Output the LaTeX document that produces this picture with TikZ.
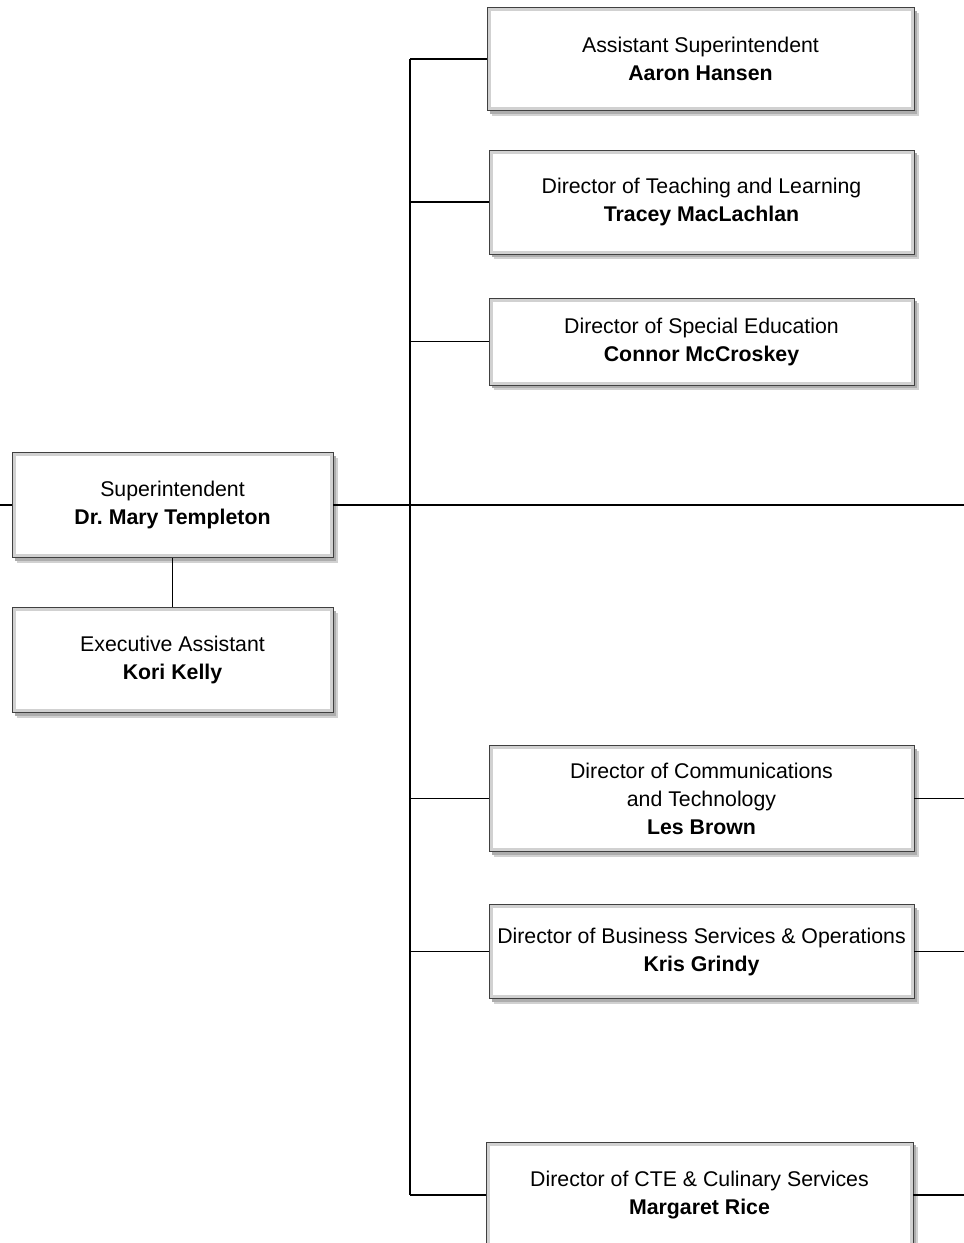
\documentclass[tikz,border=0pt]{standalone}
\usepackage{fontspec}
\setmainfont{Liberation Sans}
\usetikzlibrary{shadows}
\frenchspacing
\tikzset{
  orgbox/.style={draw=black!75, line width=0.9pt, fill=white, inner sep=0pt,
    align=center, font=\fontsize{21.3}{28}\selectfont,
    drop shadow={shadow xshift=5pt, shadow yshift=-5pt, fill=black!18, opacity=1},
    drop shadow={shadow xshift=3pt, shadow yshift=-3pt, fill=black!32, opacity=1},
    path picture={\draw[black!18, line width=7pt] (path picture bounding box.south west) rectangle (path picture bounding box.north east);}},
  conn/.style={draw=black, line width=1.8pt}
}
\begin{document}
\begin{tikzpicture}[x=1pt,y=-1pt]
\useasboundingbox (0,0) rectangle (964,1243);
\clip (0,0) rectangle (964,1243);
\coordinate (trunkx) at (410,0);
\coordinate (rgt) at (964,0);
\coordinate (lft) at (0,505);

\node[orgbox, minimum width=427, minimum height=103] (asst) at (700.5,59) {Assistant Superintendent\\\textbf{Aaron Hansen}};
\node[orgbox, minimum width=425, minimum height=104] (tl) at (701.5,202) {Director of Teaching and Learning\\\textbf{Tracey MacLachlan}};
\node[orgbox, minimum width=425, minimum height=87] (sped) at (701.5,341.5) {Director of Special Education\\\textbf{Connor McCroskey}};
\node[orgbox, minimum width=321, minimum height=105] (sup) at (172.5,505) {Superintendent\\\textbf{Dr. Mary Templeton}};
\node[orgbox, minimum width=321, minimum height=105] (exec) at (172.5,660) {Executive Assistant\\\textbf{Kori Kelly}};
\node[orgbox, minimum width=425, minimum height=106] (comm) at (701.5,798.5) {Director of Communications\\and Technology\\\textbf{Les Brown}};
\node[orgbox, minimum width=425, minimum height=94] (bus) at (701.5,951.5) {Director of Business Services \& Operations\\\textbf{Kris Grindy}};
\node[orgbox, minimum width=427, minimum height=106] (cte) at (699.5,1195) {Director of CTE \& Culinary Services\\\textbf{Margaret Rice}};

% trunk
\draw[conn] (asst.west -| trunkx) -- (cte.west -| trunkx);
\draw[conn] (asst.west -| trunkx) -- (asst.west);
\draw[conn] (tl.west -| trunkx) -- (tl.west);
\draw[conn] (sped.west -| trunkx) -- (sped.west);
\draw[conn] (comm.west -| trunkx) -- (comm.west);
\draw[conn] (bus.west -| trunkx) -- (bus.west);
\draw[conn] (cte.west -| trunkx) -- (cte.west);
% superintendent
\draw[conn] (lft) -- (sup.west);
\draw[conn] (sup.east) -- (sup.east -| rgt);
\draw[conn] (sup.south) -- (exec.north);
% right stubs
\draw[conn] (comm.east) -- (comm.east -| rgt);
\draw[conn] (bus.east) -- (bus.east -| rgt);
\draw[conn] (cte.east) -- (cte.east -| rgt);
\end{tikzpicture}
\end{document}
